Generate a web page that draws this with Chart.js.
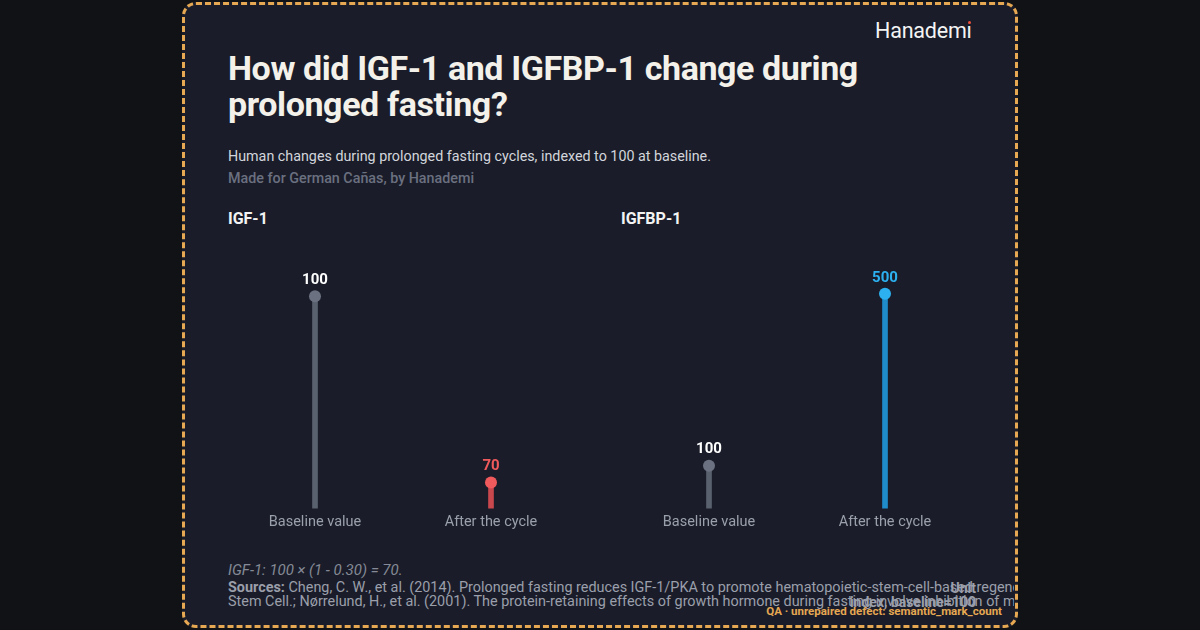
<!DOCTYPE html>
<html>
<head>
<meta charset="utf-8">
<script src="https://cdn.jsdelivr.net/npm/chart.js@4.4.1/dist/chart.umd.min.js"></script>
<style>
  html, body { margin: 0; padding: 0; }
  body { width: 1200px; height: 630px; background: #111216; position: relative; overflow: hidden;
         font-family: Roboto, "Noto Sans", sans-serif; }
  .card { position: absolute; left: 182px; top: 2px; width: 830px; height: 620px;
          background: #1a1d29; border: 3px dashed #e6a852; border-radius: 14px; }
  .abs { position: absolute; white-space: nowrap; }
  .brand { left: 875px; top: 18px; font-size: 21.5px; color: #f4f4f4; letter-spacing: -0.2px; }
  .brand span { position: relative; }
  .brand span::after { content: ""; position: absolute; left: 1px; top: 3px; width: 3px; height: 3px;
                       border-radius: 50%; background: #f0503c; }
  .title { left: 228px; top: 50px; font-size: 34px; line-height: 36px; font-weight: 700; color: #f3f1ea;
           letter-spacing: -0.4px; }
  .sub { left: 228px; top: 148px; font-size: 14.3px; color: #d3d5dc; }
  .made { left: 228px; top: 170px; font-size: 14.3px; font-weight: 500; color: #6b7080; }
  .ptitle { top: 209px; font-size: 16px; font-weight: 700; color: #f3f3f3; }
  .note { left: 228px; top: 561px; font-size: 15px; font-style: italic; color: #858a96; }
  .foot { position: absolute; left: 228px; top: 581px; width: 786px; height: 32px; overflow: hidden;
          font-size: 14.4px; line-height: 14px; color: #9a9fab; }
  .foot div { white-space: nowrap; }
  .unit { position: absolute; right: 224px; top: 581px; font-size: 14px; line-height: 14px; font-weight: 700;
          color: #9a9fab; text-align: right; }
  .qa { right: 198px; top: 604px; font-size: 11.5px; font-weight: 700; color: #e6a852; }
  canvas { position: absolute; }
</style>
</head>
<body>
<div class="card"></div>
<div class="abs brand">Hanadem<span>ı</span></div>
<div class="abs title">How did IGF-1 and IGFBP-1 change during<br>prolonged fasting?</div>
<div class="abs sub">Human changes during prolonged fasting cycles, indexed to 100 at baseline.</div>
<div class="abs made">Made for German Cañas, by Hanademi</div>
<div class="abs ptitle" style="left:228px">IGF-1</div>
<div class="abs ptitle" style="left:621px">IGFBP-1</div>

<div style="position:absolute;left:227px;top:250px;width:352px;height:290px"><canvas id="igf1"></canvas></div>
<div style="position:absolute;left:621px;top:250px;width:352px;height:290px"><canvas id="igfbp1"></canvas></div>

<div class="abs note">IGF-1: 100 × (1 - 0.30) = 70.</div>
<div class="foot">
  <div><b>Sources:</b> Cheng, C. W., et al. (2014). Prolonged fasting reduces IGF-1/PKA to promote hematopoietic-stem-cell-based regeneration and reverse immunosuppression. Cell</div>
  <div>Stem Cell.; Nørrelund, H., et al. (2001). The protein-retaining effects of growth hormone during fasting involve inhibition of muscle-protein breakdown. Diabetes.</div>
</div>
<div class="unit">Unit<br>index, baseline=100</div>
<div class="abs qa">QA · unrepaired defect: semantic_mark_count</div>

<script>
const categorias = ["Baseline value", "After the cycle"];
const valoresIgf1 = [100, 70];
const valoresIgfbp1 = [100, 500];

const corBase = "#6b7180";
const corBaseHaste = "#5a616e";

// rótulos de valor acima das bolinhas
const rotulosValor = {
  id: "rotulosValor",
  afterDatasetsDraw(chart, args, opts) {
    const ctx = chart.ctx;
    const meta = chart.getDatasetMeta(1);
    const dados = chart.data.datasets[1].data;
    ctx.save();
    ctx.font = "bold 15px Roboto, sans-serif";
    ctx.textAlign = "center";
    ctx.textBaseline = "middle";
    meta.data.forEach((pt, i) => {
      ctx.fillStyle = opts.cores[i];
      ctx.fillText(dados[i], pt.x, pt.y - 16);
    });
    ctx.restore();
  },
};

function criarPirulito(canvasId, valores, min, max, corHastes, corPontos, corRotulos) {
  const ctx = document.getElementById(canvasId).getContext("2d");
  return new Chart(ctx, {
    type: "bar",
    data: {
      labels: categorias,
      datasets: [
        {
          type: "bar",
          data: valores,
          backgroundColor: corHastes,
          barThickness: 5,
          borderWidth: 0,
          order: 2,
        },
        {
          type: "line",
          data: valores,
          showLine: false,
          pointRadius: 6,
          pointHoverRadius: 6,
          pointBackgroundColor: corPontos,
          pointBorderWidth: 0,
          order: 1,
        },
      ],
    },
    options: {
      responsive: true,
      maintainAspectRatio: false,
      animation: false,
      layout: { autoPadding: false, padding: { top: 9, bottom: 4, left: 0, right: 0 } },
      plugins: {
        legend: { display: false },
        tooltip: { enabled: false },
        rotulosValor: { cores: corRotulos },
      },
      scales: {
        x: {
          grid: { display: false, drawTicks: false },
          border: { display: false },
          ticks: { color: "#9aa0ab", font: { family: "Roboto", size: 14.5 }, padding: 5 },
        },
        y: {
          display: false,
          min: min,
          max: max,
        },
      },
    },
    plugins: [rotulosValor],
  });
}

criarPirulito("igf1", valoresIgf1, 65.8, 106,
  [corBaseHaste, "#c9484d"], [corBase, "#f05a5c"], ["#ffffff", "#f05a5c"]);
criarPirulito("igfbp1", valoresIgfbp1, 0, 581,
  [corBaseHaste, "#1f8bc9"], [corBase, "#2cb0f0"], ["#ffffff", "#2cb0f0"]);
</script>
</body>
</html>
